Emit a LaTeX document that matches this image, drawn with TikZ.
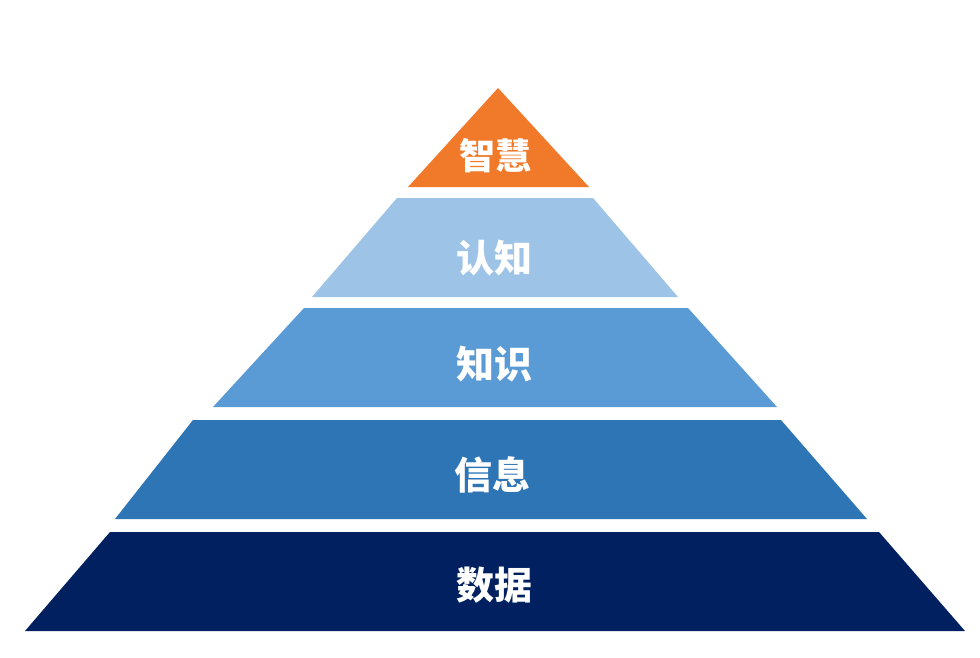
\documentclass[tikz,border=0pt]{standalone}
\usepackage{fontspec}
\newfontfamily\cjk{Noto Sans CJK SC}
\definecolor{cOrange}{HTML}{F07A2A}
\definecolor{cLight}{HTML}{9DC3E6}
\definecolor{cMid}{HTML}{5B9BD5}
\definecolor{cBlue}{HTML}{2E75B6}
\definecolor{cDark}{HTML}{002060}
\tikzset{
  layertext/.style={text=white, font=\cjk\bfseries\fontsize{38}{40}\selectfont, inner sep=0pt},
}
\begin{document}
\begin{tikzpicture}[x=1pt,y=-1pt]
\useasboundingbox (0,0) rectangle (980,658);
\fill[white] (0,0) rectangle (980,658);
\fill[cOrange] (498,88) -- (589,187) -- (408,187) -- cycle;
\fill[cLight] (397,198) -- (593,198) -- (678,297) -- (312,297) -- cycle;
\fill[cMid] (304,308) -- (688,308) -- (777,407) -- (213,407) -- cycle;
\fill[cBlue] (193,420) -- (781,420) -- (867,519) -- (115,519) -- cycle;
\fill[cDark] (110,532) -- (879,532) -- (965,631) -- (25,631) -- cycle;
\node[layertext, font=\cjk\bfseries\fontsize{36}{38}\selectfont] (wisdom) at (495,156) {智慧};
\node[layertext] (cognition) at (494,258) {认知};
\node[layertext] (knowledge) at (494,364) {知识};
\node[layertext] (information) at (492,475) {信息};
\node[layertext] (data) at (494,585) {数据};
\end{tikzpicture}
\end{document}
